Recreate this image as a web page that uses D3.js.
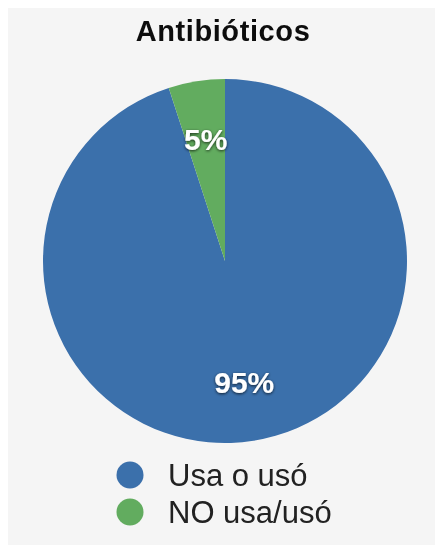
<!DOCTYPE html>
<html>
<head>
<meta charset="utf-8">
<script src="https://cdn.jsdelivr.net/npm/d3@7"></script>
<style>
  html, body { margin: 0; padding: 0; background: #ffffff; }
  svg { display: block; }
  text { font-family: "Liberation Sans", Arial, Helvetica, sans-serif; }
</style>
</head>
<body>
<script>
// Antibiotic use: share of respondents
const title = "Antibióticos";
const categories = ["Usa o usó", "NO usa/usó"];
const values = [95, 5];
const labels = ["95%", "5%"];
const colors = ["#3b6fab", "#62ac5f"];

const W = 435, H = 545;
const cx = 225, cy = 261, R = 182, labelR = 123;

const svg = d3.select("body").append("svg")
  .attr("width", W).attr("height", H);

// soft shadow under the percentage labels
const defs = svg.append("defs");
const f = defs.append("filter").attr("id", "shadow")
  .attr("x", "-20%").attr("y", "-20%").attr("width", "140%").attr("height", "140%");
f.append("feDropShadow").attr("dx", 0).attr("dy", 1).attr("stdDeviation", 1.6)
  .attr("flood-color", "#000").attr("flood-opacity", 0.75);

const blur = defs.append("filter").attr("id", "soft");
blur.append("feGaussianBlur").attr("stdDeviation", 0.6);

// panel background
svg.append("rect").attr("x", 8).attr("y", 8).attr("width", W - 8).attr("height", H - 8)
  .attr("fill", "#f5f5f5");

svg.append("text")
  .attr("x", 223).attr("y", 41)
  .attr("text-anchor", "middle")
  .attr("font-size", 29).attr("font-weight", "bold")
  .attr("letter-spacing", 0.6)
  .attr("fill", "#111")
  .attr("filter", "url(#soft)")
  .text(title);

const data = categories.map((c, i) => ({ cat: c, value: values[i], label: labels[i], color: colors[i] }));

const pie = d3.pie().sort(null).value(d => d.value);
const arc = d3.arc().innerRadius(0).outerRadius(R);
const labelArc = d3.arc().innerRadius(labelR).outerRadius(labelR);

const g = svg.append("g").attr("transform", `translate(${cx},${cy})`);
const arcs = pie(data);

g.selectAll("path").data(arcs).join("path")
  .attr("d", arc)
  .attr("fill", d => d.data.color)
  .attr("filter", "url(#soft)");

g.selectAll("text.pct").data(arcs).join("text")
  .attr("class", "pct")
  .attr("transform", d => `translate(${labelArc.centroid(d)})`)
  .attr("text-anchor", "middle")
  .attr("dy", "0.36em")
  .attr("font-size", 30)
  .attr("font-weight", "bold")
  .attr("fill", "#ffffff")
  .attr("filter", "url(#shadow)")
  .text(d => d.data.label);

// legend
const legend = svg.append("g");
const rows = legend.selectAll("g").data(data).join("g")
  .attr("transform", (d, i) => `translate(130, ${475 + i * 37})`);
rows.append("circle").attr("r", 13.5).attr("fill", d => d.color).attr("filter", "url(#soft)");
rows.append("text")
  .attr("x", 38).attr("dy", "0.36em")
  .attr("font-size", 31)
  .attr("fill", "#222")
  .attr("filter", "url(#soft)")
  .text(d => d.cat);
</script>
</body>
</html>
